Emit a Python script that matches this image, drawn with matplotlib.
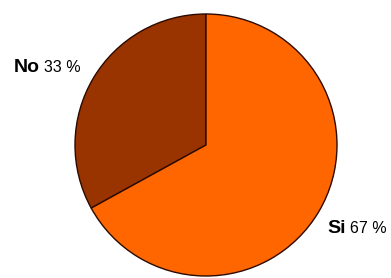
import matplotlib
matplotlib.use('Agg')
import matplotlib.pyplot as plt

# Dati
labels = ['No', 'Si']
valori = [33, 67]
colori = ['#993300', '#FF6600']

fig = plt.figure(figsize=(3.91, 2.78), dpi=100)
ax = fig.add_axes([0, 0, 1, 1])

# Torta
ax.pie(valori, colors=colori, startangle=90, counterclock=True,
       center=(206, 133), radius=131,
       wedgeprops={'edgecolor': '#2b0a00', 'linewidth': 1.0})

ax.set_xlim(0, 391)
ax.set_ylim(0, 278)
ax.set_aspect('equal')
ax.axis('off')

# Etichette
ax.text(40, 206, labels[0], fontsize=14, fontweight='bold',
        ha='right', va='baseline', family='Liberation Sans')
ax.text(44, 206, f'{valori[0]} %', fontsize=11.5,
        ha='left', va='baseline', family='Liberation Sans')
ax.text(346, 45, labels[1], fontsize=14, fontweight='bold',
        ha='right', va='baseline', family='Liberation Sans')
ax.text(350, 45, f'{valori[1]} %', fontsize=11.5,
        ha='left', va='baseline', family='Liberation Sans')

fig.savefig('out.png', dpi=100)
